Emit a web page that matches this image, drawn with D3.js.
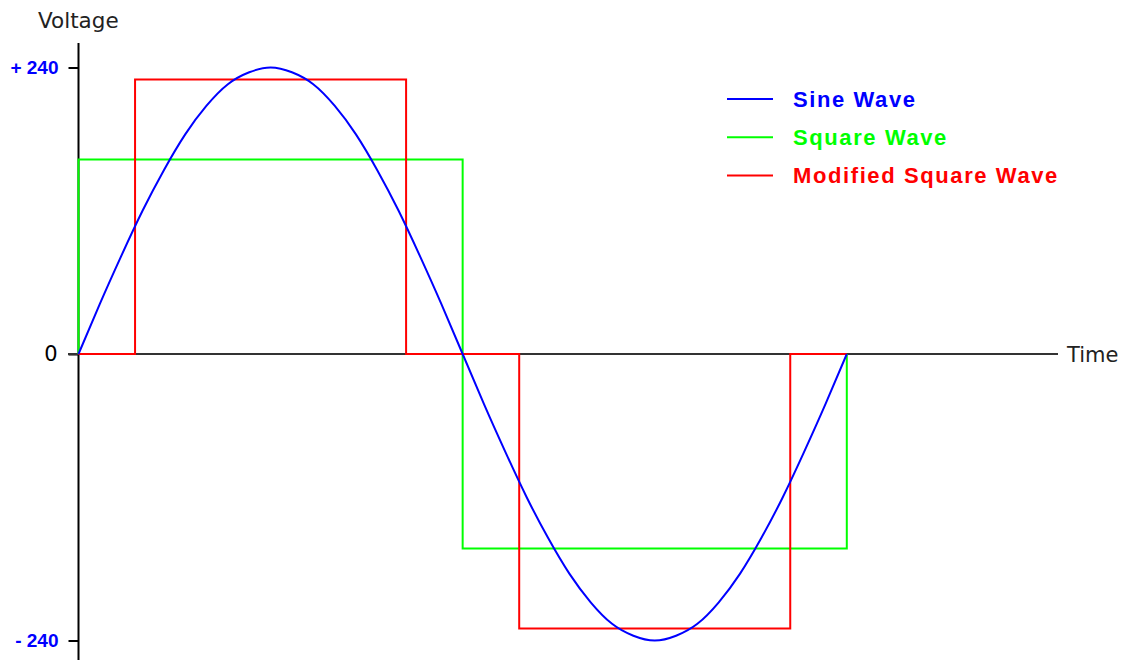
<!DOCTYPE html>
<html>
<head>
<meta charset="utf-8">
<script src="https://cdn.jsdelivr.net/npm/d3@7"></script>
<style>
  body { margin: 0; background: #fff; }
  svg { display: block; }
</style>
</head>
<body>
<div class="chart"></div>
<script>
var svgWidth = 1125;
var svgHeight = 660;

// time in degrees of one mains cycle
var sineTimes = [0, 10, 20, 30, 40, 50, 60, 70, 80, 90, 100, 110, 120, 130, 140, 150, 160, 170, 180,
  190, 200, 210, 220, 230, 240, 250, 260, 270, 280, 290, 300, 310, 320, 330, 340, 350, 360];
var sineValues = [0, 42, 82, 120, 154, 184, 208, 226, 236, 240, 236, 226, 208, 184, 154, 120, 82, 42, 0,
  -42, -82, -120, -154, -184, -208, -226, -236, -240, -236, -226, -208, -184, -154, -120, -82, -42, 0];

var squareTimes = [0, 0, 180, 180, 360, 360];
var squareValues = [0, 163, 163, -163, -163, 0];

var modTimes = [0, 26.5, 26.5, 153.5, 153.5, 206.5, 206.5, 333.5, 333.5, 360];
var modValues = [0, 0, 230, 230, 0, 0, -230, -230, 0, 0];

var yTicks = [240, 0, -240];
var yTickLabels = ["+ 240", "0", "- 240"];

var legendNames = ["Sine Wave", "Square Wave", "Modified Square Wave"];
var legendColors = ["#0000ff", "#00ff00", "#ff0000"];

var svg = d3.select(".chart")
  .append("svg")
  .attr("width", svgWidth)
  .attr("height", svgHeight);

var xScale = d3.scaleLinear()
  .domain([0, 360])
  .range([78.5, 846.8]);

var yScale = d3.scaleLinear()
  .domain([-240, 240])
  .range([640.5, 67.5]);

// y axis: ticks only, the long line is drawn by hand
var leftAxis = d3.axisLeft(yScale)
  .tickValues(yTicks)
  .tickSize(10)
  .tickPadding(10)
  .tickFormat((d, i) => yTickLabels[i]);

var yAxis = svg.append("g")
  .attr("transform", `translate(${xScale(0)}, 0)`)
  .call(leftAxis);

yAxis.select(".domain").remove();
yAxis.selectAll(".tick line").attr("stroke", "#000").attr("stroke-width", 2);
yAxis.selectAll(".tick text")
  .attr("fill", d => d === 0 ? "#000" : "#0000ff")
  .style("font-family", d => d === 0 ? "'DejaVu Sans', sans-serif" : "'Liberation Sans', Arial, sans-serif")
  .style("font-weight", d => d === 0 ? "normal" : "bold")
  .style("font-size", d => d === 0 ? "21px" : "19px")
  .style("letter-spacing", "0px")
  .attr("x", d => d === 0 ? -21 : -20);

svg.append("line")
  .attr("x1", xScale(0)).attr("x2", xScale(0))
  .attr("y1", 43).attr("y2", svgHeight)
  .attr("stroke", "#000")
  .attr("stroke-width", 2);

// time axis
svg.append("line")
  .attr("x1", 68).attr("x2", 1058)
  .attr("y1", yScale(0)).attr("y2", yScale(0))
  .attr("stroke", "#333")
  .attr("stroke-width", 2);

svg.append("text")
  .attr("x", 38)
  .attr("y", 28)
  .style("font-family", "'DejaVu Sans', sans-serif")
  .style("font-size", "21.5px")
  .attr("fill", "#222")
  .text("Voltage");

svg.append("text")
  .attr("x", 1067)
  .attr("y", yScale(0) + 8)
  .style("font-family", "'DejaVu Sans', sans-serif")
  .style("font-size", "21px")
  .attr("fill", "#222")
  .text("Time");

var line = d3.line()
  .x(d => xScale(d[0]))
  .y(d => yScale(d[1]));

var sineLine = d3.line()
  .x(d => xScale(d[0]))
  .y(d => yScale(d[1]))
  .curve(d3.curveNatural);

svg.append("path")
  .datum(d3.zip(squareTimes, squareValues))
  .attr("fill", "none")
  .attr("stroke", legendColors[1])
  .attr("stroke-width", 2)
  .attr("d", line);

svg.append("path")
  .datum(d3.zip(modTimes, modValues))
  .attr("fill", "none")
  .attr("stroke", legendColors[2])
  .attr("stroke-width", 2)
  .attr("d", line);

svg.append("path")
  .datum(d3.zip(sineTimes, sineValues))
  .attr("fill", "none")
  .attr("stroke", legendColors[0])
  .attr("stroke-width", 2)
  .attr("d", sineLine);

// legend
var legend = svg.append("g")
  .attr("transform", "translate(727, 99)");

var items = legend.selectAll("g")
  .data(legendNames)
  .enter()
  .append("g")
  .attr("transform", (d, i) => `translate(0, ${i * 38.3})`);

items.append("line")
  .attr("x1", 0).attr("x2", 46)
  .attr("stroke", (d, i) => legendColors[i])
  .attr("stroke-width", 2);

items.append("text")
  .attr("x", 66)
  .attr("y", 7.5)
  .attr("fill", (d, i) => legendColors[i])
  .style("font-family", "'Liberation Sans', Arial, sans-serif")
  .style("font-weight", "bold")
  .style("font-size", "22px")
  .style("letter-spacing", "1.6px")
  .text(d => d);
</script>
</body>
</html>
